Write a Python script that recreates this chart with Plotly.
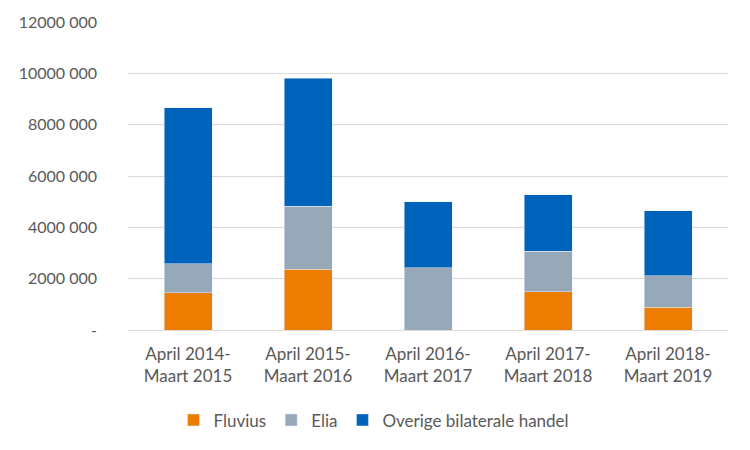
import plotly.graph_objects as go

categories = ["April 2014-<br>Maart 2015", "April 2015-<br>Maart 2016", "April 2016-<br>Maart 2017",
              "April 2017-<br>Maart 2018", "April 2018-<br>Maart 2019"]
fluvius = [1460000, 2370000, 0, 1500000, 890000]
elia = [1120000, 2450000, 2430000, 1560000, 1220000]
overige = [6080000, 4980000, 2570000, 2210000, 2540000]
tick_vals = [0, 2000000, 4000000, 6000000, 8000000, 10000000, 12000000]
tick_text = ["-", "2000 000", "4000 000", "6000 000", "8000 000", "10000 000", "12000 000"]

fig = go.Figure()
fig.add_bar(x=categories, y=fluvius, name="Fluvius", marker_color="#ED7D00")
fig.add_bar(x=categories, y=elia, name="Elia", marker_color="#97A8B8")
fig.add_bar(x=categories, y=overige, name="Overige bilaterale handel", marker_color="#0063BB")

fig.update_layout(
    barmode="stack",
    bargap=0.6,
    width=750, height=450,
    margin=dict(l=128, r=22, t=22, b=120),
    plot_bgcolor="white", paper_bgcolor="white",
    font=dict(family="Lato, Open Sans, sans-serif", size=16, color="#595959"),
    legend=dict(orientation="h", x=0.41, xanchor="center", y=-0.235, yanchor="top",
                font=dict(size=17, color="#595959"), itemwidth=30, traceorder="normal"),
    showlegend=True,
)
fig.update_yaxes(range=[0, 12000000], tickvals=tick_vals, ticktext=tick_text,
                 showgrid=True, gridcolor="#D9D9D9", gridwidth=1, zeroline=True,
                 zerolinecolor="#D9D9D9", zerolinewidth=1, ticks="", ticklen=0,
                 ticklabelstandoff=30,
                 tickfont=dict(size=16, color="#595959"))
fig.update_xaxes(showgrid=False, showline=False, ticks="", ticklabelstandoff=12,
                 tickfont=dict(size=17, color="#595959"))

fig.write_html("out.html")
